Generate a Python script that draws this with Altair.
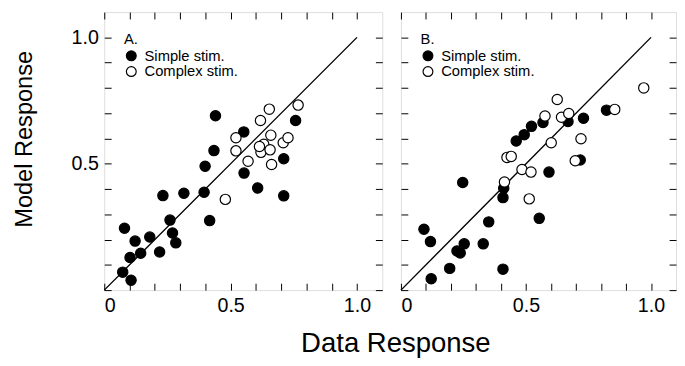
import altair as alt
import pandas as pd

FONT = "Liberation Sans"

# Panel A data
a_simple_x = [0.080, 0.122, 0.102, 0.144, 0.073, 0.106, 0.180, 0.219, 0.232, 0.260, 0.270, 0.283,
              0.315, 0.395, 0.417, 0.399, 0.434, 0.440, 0.552, 0.553, 0.607, 0.710, 0.710, 0.757]
a_simple_y = [0.245, 0.194, 0.129, 0.146, 0.071, 0.039, 0.210, 0.151, 0.374, 0.277, 0.226, 0.187,
              0.383, 0.387, 0.275, 0.490, 0.552, 0.690, 0.626, 0.463, 0.404, 0.520, 0.373, 0.671]
a_complex_x = [0.479, 0.521, 0.521, 0.569, 0.618, 0.653, 0.659, 0.631, 0.620, 0.656, 0.662, 0.708,
               0.727, 0.767, 0.614]
a_complex_y = [0.359, 0.603, 0.551, 0.510, 0.671, 0.716, 0.613, 0.577, 0.545, 0.555, 0.497, 0.583,
               0.603, 0.732, 0.568]

# Panel B data
b_simple_x = [0.092, 0.118, 0.121, 0.195, 0.224, 0.237, 0.253, 0.247, 0.329, 0.351, 0.408, 0.408,
              0.411, 0.461, 0.493, 0.522, 0.553, 0.568, 0.592, 0.668, 0.730, 0.717, 0.822]
b_simple_y = [0.241, 0.192, 0.045, 0.086, 0.155, 0.147, 0.183, 0.426, 0.183, 0.270, 0.083, 0.366,
              0.403, 0.590, 0.615, 0.648, 0.284, 0.663, 0.467, 0.667, 0.680, 0.515, 0.712]
b_complex_x = [0.414, 0.424, 0.441, 0.484, 0.520, 0.513, 0.601, 0.576, 0.625, 0.642, 0.671, 0.720,
               0.697, 0.855, 0.971]
b_complex_y = [0.428, 0.525, 0.529, 0.477, 0.467, 0.361, 0.583, 0.689, 0.754, 0.684, 0.699, 0.599,
               0.512, 0.715, 0.800]

series_names = ["Simple stim.", "Complex stim."]
series_fill = ["black", "white"]
tick_values = [0, 0.1, 0.2, 0.3, 0.4, 0.5, 0.6, 0.7, 0.8, 0.9, 1.0]
diag = [0, 1.0]
axis_domain = [0, 1.1]

LABEL_EXPR = "datum.value == 0 ? '0' : ((datum.value == 0.5 || datum.value == 1) ? format(datum.value, '.1f') : '')"
LABEL_EXPR_Y = "(datum.value == 0.5 || datum.value == 1) ? format(datum.value, '.1f') : ''"
TICK = 7


def axis(orient, labels=True, expr=LABEL_EXPR, title=None, **kw):
    return alt.Axis(orient=orient, values=tick_values, labels=labels, labelExpr=expr,
                    offset=-TICK, tickSize=TICK, domain=False, grid=False, title=title,
                    labelFont=FONT, labelFontSize=20, labelColor="black", labelPadding=6,
                    tickColor="black", tickWidth=1, **kw)


def panel(sx, sy, cx, cy, letter, width, show_y):
    df = pd.DataFrame({
        "x": sx + cx,
        "y": sy + cy,
        "type": [series_names[0]] * len(sx) + [series_names[1]] * len(cx),
    })
    xs = alt.Scale(domain=axis_domain, nice=False, zero=False)
    ys = alt.Scale(domain=axis_domain, nice=False, zero=False)
    if show_y:
        yaxis = axis("left", expr=LABEL_EXPR_Y, title="Model Response",
                     titleFont=FONT, titleFontSize=24, titleFontWeight="normal",
                     titleColor="black", titlePadding=35, titleY=129)
    else:
        yaxis = axis("left", labels=False)
    pts = alt.Chart(df).mark_circle(size=110, stroke="black", strokeWidth=1.2, opacity=1).encode(
        x=alt.X("x:Q", scale=xs, axis=axis("bottom")),
        y=alt.Y("y:Q", scale=ys, axis=yaxis),
        fill=alt.Fill("type:N", scale=alt.Scale(domain=series_names, range=series_fill),
                      legend=alt.Legend(title=letter, orient="top-left", offset=20,
                                        titleFont=FONT, titleFontSize=15, titleFontWeight="normal",
                                        titleColor="black", titlePadding=2,
                                        labelFont=FONT, labelFontSize=15, labelColor="black",
                                        labelOffset=6, rowPadding=0, symbolSize=100,
                                        symbolStrokeColor="black", symbolStrokeWidth=1.2,
                                        symbolType="circle")),
    )
    ld = pd.DataFrame({"x": diag, "y": diag})
    line = alt.Chart(ld).mark_line(color="black", strokeWidth=1.4).encode(
        x=alt.X("x:Q", scale=xs, axis=axis("top", labels=False)),
        y=alt.Y("y:Q", scale=ys, axis=axis("right", labels=False)),
    )
    return alt.layer(line, pts).resolve_axis(x="independent", y="independent").properties(
        width=width, height=283)


pa = panel(a_simple_x, a_simple_y, a_complex_x, a_complex_y, "A.", 283, True)
pb = panel(b_simple_x, b_simple_y, b_complex_x, b_complex_y, "B.", 280, False)

chart = alt.hconcat(pa, pb, spacing=14).resolve_scale(fill="independent").resolve_legend(
    fill="independent").properties(
    title=alt.TitleParams("Data Response", orient="bottom", anchor="middle", font=FONT,
                          fontSize=28, fontWeight="normal", color="black", offset=15, dx=52),
    padding={"left": 4, "top": 0, "right": 0, "bottom": 0},
).configure_view(stroke="black", strokeWidth=2).configure(background="white")

chart.save("out.html", embed_options={"renderer": "svg", "actions": False})
